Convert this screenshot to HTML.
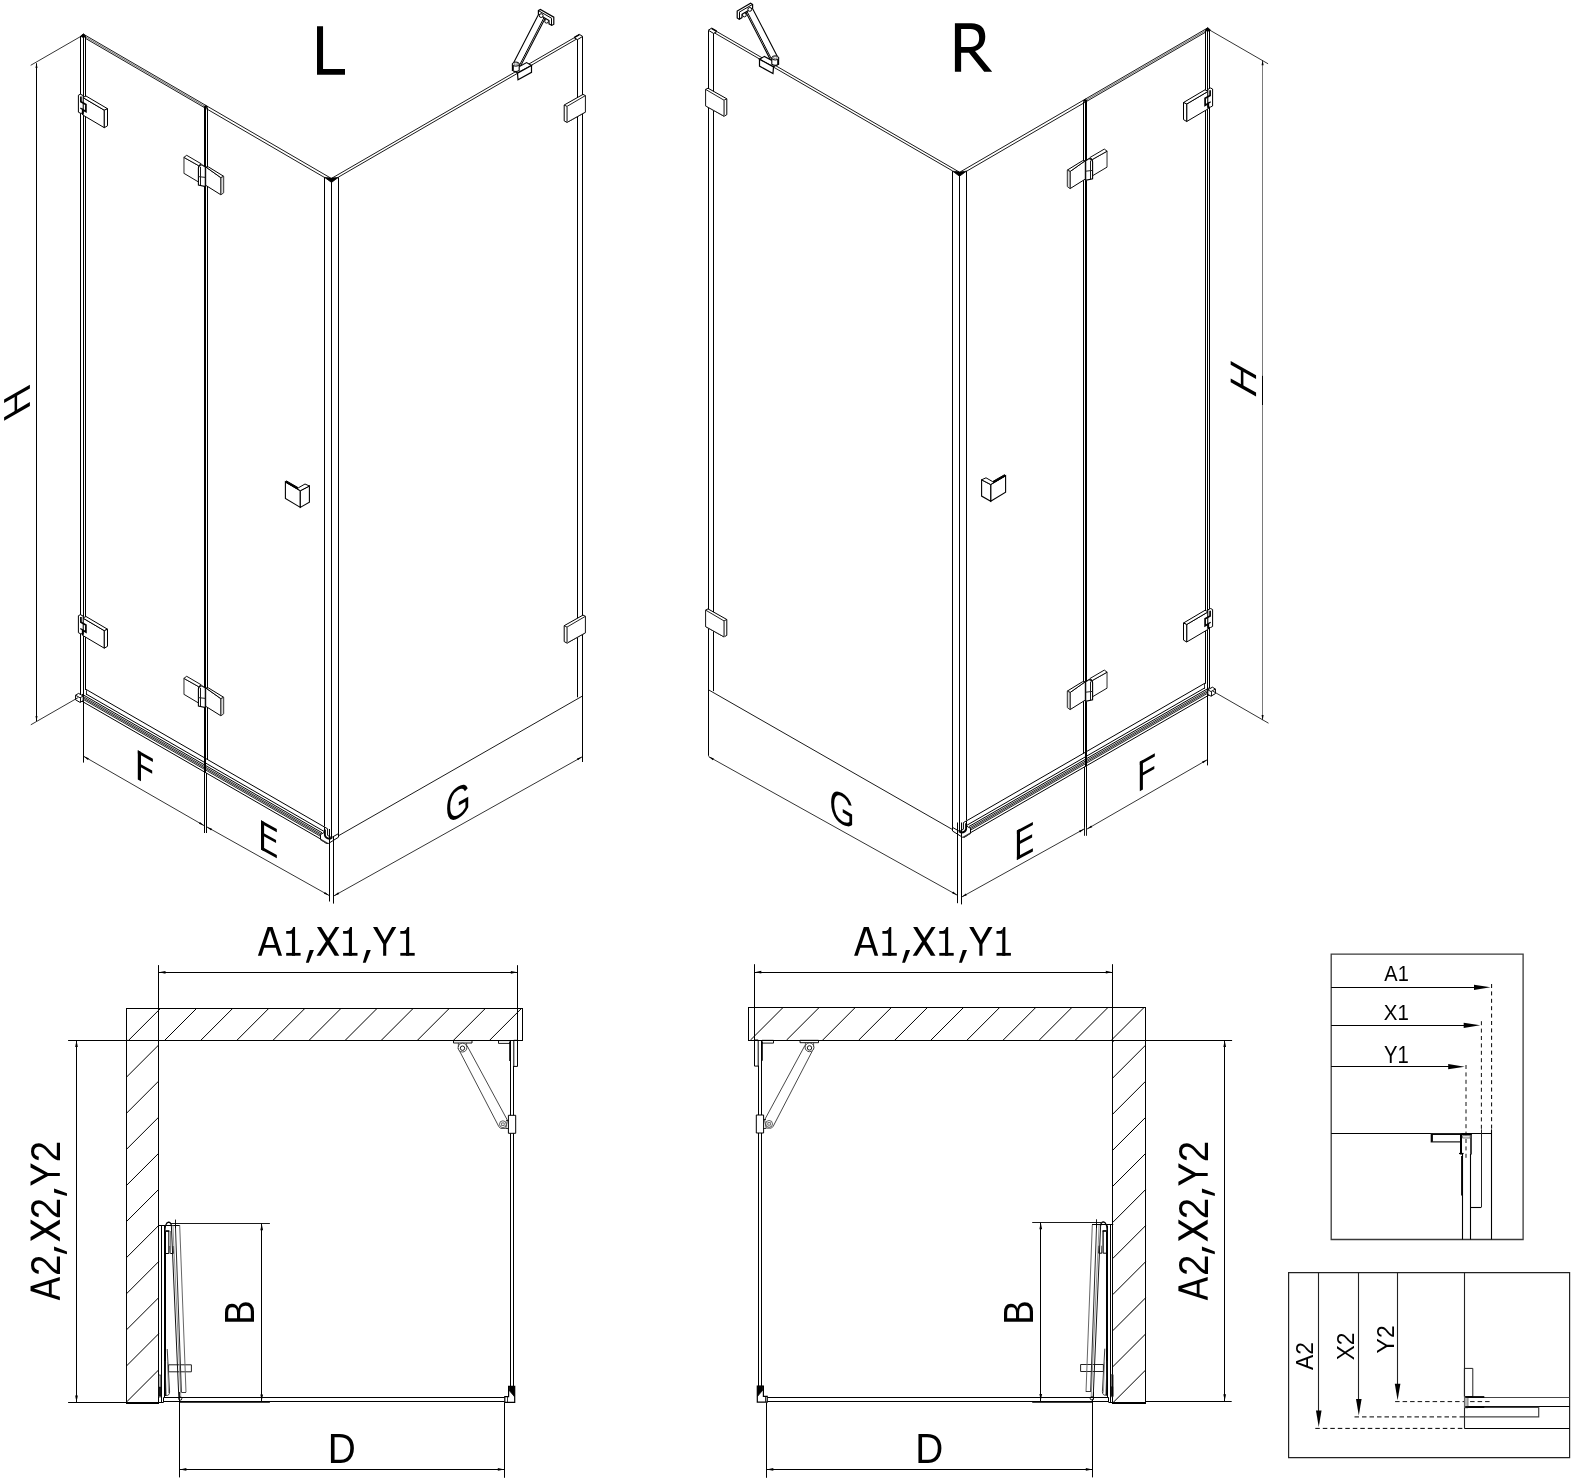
<!DOCTYPE html>
<html lang="en">
<head>
<meta charset="utf-8">
<title>Shower enclosure L/R technical drawing</title>
<style>
html,body{margin:0;padding:0;background:#fff;}
body{width:1582px;height:1484px;overflow:hidden;font-family:"Liberation Sans",sans-serif;}
svg{display:block;filter:grayscale(1);}
</style>
</head>
<body>
<svg width="1582" height="1484" viewBox="0 0 1582 1484" shape-rendering="geometricPrecision">
<rect x="0" y="0" width="1582" height="1484" fill="#fff"/>
<g id="isoL">
<line x1="80.5" y1="36" x2="80.5" y2="694.5" stroke="#000" stroke-width="1"/>
<line x1="83.5" y1="35" x2="83.5" y2="762.6" stroke="#000" stroke-width="1"/>
<line x1="85.5" y1="37" x2="85.5" y2="690" stroke="#000" stroke-width="1"/>
<path d="M80.6 36.2 L83.3 33.8 L86 36.4 L83.3 37.6 Z" stroke="#000" stroke-width="0.8" fill="#000" stroke-linejoin="miter"/>
<line x1="83.5" y1="34.22" x2="330.5" y2="177.95" stroke="#000" stroke-width="0.9"/>
<line x1="86" y1="38.68" x2="325" y2="177.75" stroke="#000" stroke-width="0.9"/>
<line x1="86" y1="37.18" x2="204" y2="105.84" stroke="#333" stroke-width="0.7"/>
<line x1="205" y1="107" x2="205" y2="773" stroke="#000" stroke-width="2"/>
<line x1="207.5" y1="107.5" x2="207.5" y2="760" stroke="#000" stroke-width="1"/>
<line x1="204.5" y1="773" x2="204.5" y2="833" stroke="#000" stroke-width="1"/>
<line x1="206.5" y1="773" x2="206.5" y2="833" stroke="#000" stroke-width="1"/>
<path d="M203.8 106.6 L205.6 105.4 L207.6 106.8 L205.8 108 Z" stroke="#000" stroke-width="0.8" fill="#000" stroke-linejoin="miter"/>
<line x1="324.5" y1="177.3" x2="324.5" y2="826.5" stroke="#000" stroke-width="1"/>
<line x1="331.5" y1="181" x2="331.5" y2="838" stroke="#000" stroke-width="1"/>
<line x1="338.5" y1="177.3" x2="338.5" y2="835" stroke="#000" stroke-width="1"/>
<path d="M324.6 177.4 L331.3 178.1 L338.3 177.4 L331.5 182.4 Z" stroke="#000" stroke-width="0.8" fill="#000" stroke-linejoin="miter"/>
<line x1="332" y1="178.12" x2="574.1" y2="37.8" stroke="#000" stroke-width="0.9"/>
<line x1="338.4" y1="177.11" x2="577.5" y2="38.53" stroke="#000" stroke-width="0.9"/>
<line x1="577.5" y1="39.3" x2="577.5" y2="697.3" stroke="#000" stroke-width="1"/>
<line x1="582.5" y1="36.7" x2="582.5" y2="762" stroke="#000" stroke-width="1"/>
<path d="M574.1 37.8 L579.4 34.4 L582.7 36.4 L577.5 39.6 Z" stroke="#000" stroke-width="1" fill="#fff" stroke-linejoin="miter"/>
<line x1="574.4" y1="37.4" x2="579.4" y2="34.6" stroke="#000" stroke-width="1.6"/>
<line x1="338.4" y1="835.8" x2="582.5" y2="696" stroke="#000" stroke-width="0.9"/>
<line x1="85.9" y1="689.3" x2="324.5" y2="827.07" stroke="#000" stroke-width="1"/>
<line x1="85.9" y1="693.9" x2="324.5" y2="831.67" stroke="#000" stroke-width="1"/>
<line x1="82" y1="694.15" x2="322" y2="832.72" stroke="#000" stroke-width="1"/>
<line x1="82" y1="695.85" x2="322" y2="834.42" stroke="#000" stroke-width="0.85"/>
<line x1="82" y1="697.25" x2="322" y2="835.82" stroke="#000" stroke-width="0.85"/>
<line x1="82" y1="698.65" x2="322" y2="837.22" stroke="#000" stroke-width="0.85"/>
<line x1="82" y1="701.25" x2="322" y2="839.82" stroke="#000" stroke-width="1"/>
<path d="M75.6 695.2 L78.6 693.4 L83.2 696 L83.2 700.6 L80 702.4 L75.6 699.8 Z" stroke="#000" stroke-width="1" fill="#fff" stroke-linejoin="miter"/>
<line x1="75.6" y1="695.2" x2="80" y2="697.8" stroke="#000" stroke-width="0.9"/>
<line x1="80" y1="697.8" x2="83.2" y2="696" stroke="#000" stroke-width="0.9"/>
<line x1="80.5" y1="697.8" x2="80.5" y2="702.4" stroke="#000" stroke-width="0.9"/>
<line x1="86.5" y1="690.2" x2="86.5" y2="695" stroke="#000" stroke-width="0.8"/>
<path d="M320.5 834.6 L324.5 832.2 L324.5 827 L327.6 828.8 L327.6 835.4 L331.5 837.6 L338.5 833.6 L338.5 837.2 L328.6 843.4 L326.4 843.4 L320.5 839.4 Z" stroke="#000" stroke-width="1" fill="#fff" stroke-linejoin="miter"/>
<line x1="320.5" y1="839.4" x2="327.4" y2="843.4" stroke="#333" stroke-width="1.5"/>
<path d="M324.9 829.4 L324.9 835.2 Q325.4 838.4 329.8 838.8 L332 837.6" stroke="#000" stroke-width="1.9" fill="none"/>
<path d="M82.8 97.5 L104.3 110.2 L104.3 127.7 L82.8 115 Z" stroke="#000" stroke-width="1" fill="#fff" stroke-linejoin="miter"/>
<path d="M82.8 97.5 L86 96 L107.5 108.7 L104.3 110.2 Z" stroke="#000" stroke-width="1" fill="#fff" stroke-linejoin="miter"/>
<path d="M104.3 110.2 L107.5 108.7 L107.5 125.8 L104.3 127.7 Z" stroke="#000" stroke-width="1" fill="#fff" stroke-linejoin="miter"/>
<path d="M78.4 95.2 L80.4 94.2 L83.2 95.6 L83.2 113.4 L80.4 113.2 L78.4 112.2 Z" stroke="#000" stroke-width="1" fill="#fff" stroke-linejoin="miter"/>
<path d="M80.9 96.4 L80.9 101.7 L85.9 104.5 L85.9 111.5 L82.7 109.7 L82.7 114.8" stroke="#000" stroke-width="1.7" fill="none" stroke-linejoin="miter"/>
<line x1="80.3" y1="107.9" x2="82.7" y2="109.5" stroke="#000" stroke-width="1.2"/>
<path d="M82.8 618 L104.3 630.7 L104.3 648.2 L82.8 635.5 Z" stroke="#000" stroke-width="1" fill="#fff" stroke-linejoin="miter"/>
<path d="M82.8 618 L86 616.5 L107.5 629.2 L104.3 630.7 Z" stroke="#000" stroke-width="1" fill="#fff" stroke-linejoin="miter"/>
<path d="M104.3 630.7 L107.5 629.2 L107.5 646.3 L104.3 648.2 Z" stroke="#000" stroke-width="1" fill="#fff" stroke-linejoin="miter"/>
<path d="M78.4 615.7 L80.4 614.7 L83.2 616.1 L83.2 633.9 L80.4 633.7 L78.4 632.7 Z" stroke="#000" stroke-width="1" fill="#fff" stroke-linejoin="miter"/>
<path d="M80.9 616.9 L80.9 622.2 L85.9 625 L85.9 632 L82.7 630.2 L82.7 635.3" stroke="#000" stroke-width="1.7" fill="none" stroke-linejoin="miter"/>
<line x1="80.3" y1="628.4" x2="82.7" y2="630" stroke="#000" stroke-width="1.2"/>
<path d="M183.9 157.4 L198.7 165.7 L198.7 182.1 L183.9 173.3 Z" stroke="#111" stroke-width="1" fill="#fff" stroke-linejoin="miter"/>
<line x1="183.9" y1="157.4" x2="183.9" y2="173.3" stroke="#999" stroke-width="1.4"/>
<path d="M183.9 157.4 L186.7 155.3 L201.2 163.8 L198.7 165.7 Z" stroke="#111" stroke-width="1" fill="#fff" stroke-linejoin="miter"/>
<path d="M205.7 166.9 L220.9 177.7 L220.9 194.8 L205.7 185.3 Z" stroke="#000" stroke-width="1" fill="#fff" stroke-linejoin="miter"/>
<path d="M205.7 166.9 L208.6 167 L223.7 176.3 L220.9 177.7 Z" stroke="#000" stroke-width="1" fill="#fff" stroke-linejoin="miter"/>
<path d="M220.9 177.7 L223.7 176.3 L223.7 192.8 L220.9 194.8 Z" stroke="#333" stroke-width="1" fill="#ddd" stroke-linejoin="miter"/>
<path d="M198.4 167.8 Q198.9 164.8 201.9 164.8 L205.3 167 L205.3 186.6 L198.4 185.1 Z" stroke="#000" stroke-width="1.1" fill="#fff"/>
<line x1="200.5" y1="166.8" x2="200.5" y2="185.6" stroke="#000" stroke-width="0.9"/>
<line x1="198.4" y1="176.6" x2="205.3" y2="177.4" stroke="#222" stroke-width="1"/>
<path d="M183.9 678.4 L198.7 686.7 L198.7 703.1 L183.9 694.3 Z" stroke="#111" stroke-width="1" fill="#fff" stroke-linejoin="miter"/>
<line x1="183.9" y1="678.4" x2="183.9" y2="694.3" stroke="#999" stroke-width="1.4"/>
<path d="M183.9 678.4 L186.7 676.3 L201.2 684.8 L198.7 686.7 Z" stroke="#111" stroke-width="1" fill="#fff" stroke-linejoin="miter"/>
<path d="M205.7 687.9 L220.9 698.7 L220.9 715.8 L205.7 706.3 Z" stroke="#000" stroke-width="1" fill="#fff" stroke-linejoin="miter"/>
<path d="M205.7 687.9 L208.6 688 L223.7 697.3 L220.9 698.7 Z" stroke="#000" stroke-width="1" fill="#fff" stroke-linejoin="miter"/>
<path d="M220.9 698.7 L223.7 697.3 L223.7 713.8 L220.9 715.8 Z" stroke="#333" stroke-width="1" fill="#ddd" stroke-linejoin="miter"/>
<path d="M198.4 688.8 Q198.9 685.8 201.9 685.8 L205.3 688 L205.3 707.6 L198.4 706.1 Z" stroke="#000" stroke-width="1.1" fill="#fff"/>
<line x1="200.5" y1="687.8" x2="200.5" y2="706.6" stroke="#000" stroke-width="0.9"/>
<line x1="198.4" y1="697.6" x2="205.3" y2="698.4" stroke="#222" stroke-width="1"/>
<path d="M564.2 105 L583 94.4 L585.4 95.6 L585.4 112.1 L567 122.4 L564.2 120.9 Z" stroke="#000" stroke-width="1" fill="#fff" stroke-linejoin="miter"/>
<path d="M567 106.4 L585.4 95.6 L585.4 112.1 L567 122.4 Z" stroke="#222" stroke-width="1" fill="#fff" stroke-linejoin="miter"/>
<line x1="564.2" y1="105" x2="567" y2="106.4" stroke="#000" stroke-width="0.9"/>
<line x1="567.5" y1="106.4" x2="567.5" y2="122.4" stroke="#777" stroke-width="1"/>
<path d="M564.2 625.7 L583 615.1 L585.4 616.3 L585.4 632.8 L567 643.1 L564.2 641.6 Z" stroke="#000" stroke-width="1" fill="#fff" stroke-linejoin="miter"/>
<path d="M567 627.1 L585.4 616.3 L585.4 632.8 L567 643.1 Z" stroke="#222" stroke-width="1" fill="#fff" stroke-linejoin="miter"/>
<line x1="564.2" y1="625.7" x2="567" y2="627.1" stroke="#000" stroke-width="0.9"/>
<line x1="567.5" y1="627.1" x2="567.5" y2="643.1" stroke="#777" stroke-width="1"/>
<path d="M285.4 481.8 L300.3 490.7 L300.3 507.4 L285.4 498.5 Z" stroke="#000" stroke-width="1.1" fill="#fff" stroke-linejoin="miter"/>
<path d="M300.3 490.7 L309.4 486 L309.4 502.3 L300.3 507.4 Z" stroke="#000" stroke-width="1.1" fill="#fff" stroke-linejoin="miter"/>
<path d="M285.4 481.8 L286.6 481 L298.4 487.8 L305 484 L309.4 486 L300.3 490.7 Z" stroke="#000" stroke-width="1" fill="#fff" stroke-linejoin="miter"/>
<line x1="285.6" y1="481.6" x2="298" y2="488.6" stroke="#000" stroke-width="1.8"/>
<path d="M512.6 64.8 L539 13.6 L545.6 17.5 L520.6 66 Z" stroke="#000" stroke-width="1.1" fill="#fff" stroke-linejoin="miter"/>
<line x1="519.2" y1="65.8" x2="544.2" y2="17.2" stroke="#000" stroke-width="1"/>
<path d="M538.4 10.6 L540.4 9.4 L553.8 17.2 L553.8 24.2 L551.8 25.4 L549 23.8 L549 20.6 L538.4 14.2 Z" stroke="#000" stroke-width="1.2" fill="#fff" stroke-linejoin="miter"/>
<line x1="551.5" y1="18.4" x2="551.5" y2="25.4" stroke="#000" stroke-width="1"/>
<line x1="538.4" y1="10.6" x2="551.8" y2="18.4" stroke="#000" stroke-width="1"/>
<circle cx="541.2" cy="15.6" r="1.9" stroke="#000" stroke-width="1" fill="#fff"/>
<circle cx="546.6" cy="21.2" r="1.9" stroke="#000" stroke-width="1" fill="#fff"/>
<path d="M517.5 73.1 L512.7 70.2 L526.6 62.6 L531.5 65.5 Z" stroke="#000" stroke-width="1.1" fill="#fff" stroke-linejoin="miter"/>
<path d="M517.5 73.1 L531.5 65.5 L531.5 72.3 L518 79.8 Z" stroke="#000" stroke-width="1.2" fill="#fff" stroke-linejoin="miter"/>
<path d="M512.4 64.1 L512.4 70.4 Q515.8 72.6 519.2 70.4 L519.2 64.1 Z" stroke="#000" stroke-width="1.1" fill="#fff"/>
<line x1="512.9" y1="64.5" x2="512.9" y2="70.4" stroke="#000" stroke-width="1.8"/>
<ellipse cx="515.8" cy="64.1" rx="3.4" ry="2.1" stroke="#000" stroke-width="1" fill="#fff"/>
<ellipse cx="515.8" cy="63.9" rx="1.9" ry="1.1" stroke="#555" stroke-width="0.7" fill="none"/>
<line x1="36.5" y1="63.3" x2="36.5" y2="721" stroke="#000" stroke-width="1"/>
<path d="M36.5 62.6 L37.5 68.1 L35.5 68.1 Z" fill="#000" stroke="none"/>
<path d="M36.5 721.6 L35.5 716.1 L37.5 716.1 Z" fill="#000" stroke="none"/>
<line x1="83.4" y1="34.9" x2="30.7" y2="65.3" stroke="#000" stroke-width="0.8"/>
<line x1="78.3" y1="697.5" x2="30.8" y2="724.8" stroke="#000" stroke-width="0.8"/>
<line x1="83.5" y1="756.2" x2="204.4" y2="825.8" stroke="#000" stroke-width="0.8"/>
<path d="M83.6 756.3 L88.86 758.18 L87.86 759.92 Z" fill="#000" stroke="none"/>
<path d="M204.2 825.7 L198.94 823.82 L199.94 822.08 Z" fill="#000" stroke="none"/>
<line x1="206.5" y1="826.7" x2="329.4" y2="895.65" stroke="#000" stroke-width="0.8"/>
<path d="M206.8 826.9 L212.09 828.72 L211.11 830.46 Z" fill="#000" stroke="none"/>
<path d="M329.2 895.55 L323.91 893.73 L324.89 891.99 Z" fill="#000" stroke="none"/>
<line x1="333.7" y1="896" x2="582.4" y2="756.7" stroke="#000" stroke-width="0.8"/>
<path d="M333.9 895.9 L338.21 892.34 L339.19 894.09 Z" fill="#000" stroke="none"/>
<path d="M582.2 756.8 L577.89 760.36 L576.91 758.61 Z" fill="#000" stroke="none"/>
<line x1="329.5" y1="829" x2="329.5" y2="901.5" stroke="#000" stroke-width="1"/>
<line x1="333.5" y1="836.5" x2="333.5" y2="903.6" stroke="#000" stroke-width="1"/>
</g>
<g id="isoR">
<line x1="1209.5" y1="29.8" x2="1209.5" y2="688.3" stroke="#000" stroke-width="1"/>
<line x1="1207.5" y1="28.8" x2="1207.5" y2="756.4" stroke="#000" stroke-width="1"/>
<line x1="1205.5" y1="30.8" x2="1205.5" y2="683.8" stroke="#000" stroke-width="1"/>
<path d="M1210.4 30 L1207.7 27.6 L1205 30.2 L1207.7 31.4 Z" stroke="#000" stroke-width="0.8" fill="#000" stroke-linejoin="miter"/>
<line x1="1207.5" y1="28.02" x2="960.5" y2="171.75" stroke="#000" stroke-width="0.9"/>
<line x1="1205" y1="32.48" x2="966" y2="171.55" stroke="#000" stroke-width="0.9"/>
<line x1="1205" y1="30.98" x2="1087" y2="99.64" stroke="#333" stroke-width="0.7"/>
<line x1="1086" y1="100.8" x2="1086" y2="766.8" stroke="#000" stroke-width="2"/>
<line x1="1083.5" y1="101.3" x2="1083.5" y2="753.8" stroke="#000" stroke-width="1"/>
<line x1="1086.5" y1="766.8" x2="1086.5" y2="826.8" stroke="#000" stroke-width="1"/>
<line x1="1084.5" y1="766.8" x2="1084.5" y2="826.8" stroke="#000" stroke-width="1"/>
<path d="M1087.2 100.4 L1085.4 99.2 L1083.4 100.6 L1085.2 101.8 Z" stroke="#000" stroke-width="0.8" fill="#000" stroke-linejoin="miter"/>
<line x1="966.5" y1="171.1" x2="966.5" y2="820.3" stroke="#000" stroke-width="1"/>
<line x1="959.5" y1="174.8" x2="959.5" y2="831.8" stroke="#000" stroke-width="1"/>
<line x1="952.5" y1="171.1" x2="952.5" y2="828.8" stroke="#000" stroke-width="1"/>
<path d="M966.4 171.2 L959.7 171.9 L952.7 171.2 L959.5 176.2 Z" stroke="#000" stroke-width="0.8" fill="#000" stroke-linejoin="miter"/>
<line x1="959" y1="171.92" x2="716.9" y2="31.6" stroke="#000" stroke-width="0.9"/>
<line x1="952.6" y1="170.91" x2="713.5" y2="32.33" stroke="#000" stroke-width="0.9"/>
<line x1="713.5" y1="33.1" x2="713.5" y2="691.1" stroke="#000" stroke-width="1"/>
<line x1="708.5" y1="30.5" x2="708.5" y2="755.8" stroke="#000" stroke-width="1"/>
<path d="M716.9 31.6 L711.6 28.2 L708.3 30.2 L713.5 33.4 Z" stroke="#000" stroke-width="1" fill="#fff" stroke-linejoin="miter"/>
<line x1="716.6" y1="31.2" x2="711.6" y2="28.4" stroke="#000" stroke-width="1.6"/>
<line x1="952.6" y1="829.6" x2="708.5" y2="689.8" stroke="#000" stroke-width="0.9"/>
<line x1="1205.1" y1="683.1" x2="966.5" y2="820.87" stroke="#000" stroke-width="1"/>
<line x1="1205.1" y1="687.7" x2="966.5" y2="825.47" stroke="#000" stroke-width="1"/>
<line x1="1209" y1="687.95" x2="969" y2="826.52" stroke="#000" stroke-width="1"/>
<line x1="1209" y1="689.65" x2="969" y2="828.22" stroke="#000" stroke-width="0.85"/>
<line x1="1209" y1="691.05" x2="969" y2="829.62" stroke="#000" stroke-width="0.85"/>
<line x1="1209" y1="692.45" x2="969" y2="831.02" stroke="#000" stroke-width="0.85"/>
<line x1="1209" y1="695.05" x2="969" y2="833.62" stroke="#000" stroke-width="1"/>
<path d="M1215.4 689 L1212.4 687.2 L1207.8 689.8 L1207.8 694.4 L1211 696.2 L1215.4 693.6 Z" stroke="#000" stroke-width="1" fill="#fff" stroke-linejoin="miter"/>
<line x1="1215.4" y1="689" x2="1211" y2="691.6" stroke="#000" stroke-width="0.9"/>
<line x1="1211" y1="691.6" x2="1207.8" y2="689.8" stroke="#000" stroke-width="0.9"/>
<line x1="1211.5" y1="691.6" x2="1211.5" y2="696.2" stroke="#000" stroke-width="0.9"/>
<line x1="1204.5" y1="684" x2="1204.5" y2="688.8" stroke="#000" stroke-width="0.8"/>
<path d="M970.5 828.4 L966.5 826 L966.5 820.8 L963.4 822.6 L963.4 829.2 L959.5 831.4 L952.5 827.4 L952.5 831 L962.4 837.2 L964.6 837.2 L970.5 833.2 Z" stroke="#000" stroke-width="1" fill="#fff" stroke-linejoin="miter"/>
<line x1="970.5" y1="833.2" x2="963.6" y2="837.2" stroke="#333" stroke-width="1.5"/>
<path d="M966.1 823.2 L966.1 829 Q965.6 832.2 961.2 832.6 L959 831.4" stroke="#000" stroke-width="1.9" fill="none"/>
<path d="M1208.2 91.3 L1186.7 104 L1186.7 121.5 L1208.2 108.8 Z" stroke="#000" stroke-width="1" fill="#fff" stroke-linejoin="miter"/>
<path d="M1208.2 91.3 L1205 89.8 L1183.5 102.5 L1186.7 104 Z" stroke="#000" stroke-width="1" fill="#fff" stroke-linejoin="miter"/>
<path d="M1186.7 104 L1183.5 102.5 L1183.5 119.6 L1186.7 121.5 Z" stroke="#000" stroke-width="1" fill="#fff" stroke-linejoin="miter"/>
<path d="M1212.6 89 L1210.6 88 L1207.8 89.4 L1207.8 107.2 L1210.6 107 L1212.6 106 Z" stroke="#000" stroke-width="1" fill="#fff" stroke-linejoin="miter"/>
<path d="M1210.1 90.2 L1210.1 95.5 L1205.1 98.3 L1205.1 105.3 L1208.3 103.5 L1208.3 108.6" stroke="#000" stroke-width="1.7" fill="none" stroke-linejoin="miter"/>
<line x1="1210.7" y1="101.7" x2="1208.3" y2="103.3" stroke="#000" stroke-width="1.2"/>
<path d="M1208.2 611.8 L1186.7 624.5 L1186.7 642 L1208.2 629.3 Z" stroke="#000" stroke-width="1" fill="#fff" stroke-linejoin="miter"/>
<path d="M1208.2 611.8 L1205 610.3 L1183.5 623 L1186.7 624.5 Z" stroke="#000" stroke-width="1" fill="#fff" stroke-linejoin="miter"/>
<path d="M1186.7 624.5 L1183.5 623 L1183.5 640.1 L1186.7 642 Z" stroke="#000" stroke-width="1" fill="#fff" stroke-linejoin="miter"/>
<path d="M1212.6 609.5 L1210.6 608.5 L1207.8 609.9 L1207.8 627.7 L1210.6 627.5 L1212.6 626.5 Z" stroke="#000" stroke-width="1" fill="#fff" stroke-linejoin="miter"/>
<path d="M1210.1 610.7 L1210.1 616 L1205.1 618.8 L1205.1 625.8 L1208.3 624 L1208.3 629.1" stroke="#000" stroke-width="1.7" fill="none" stroke-linejoin="miter"/>
<line x1="1210.7" y1="622.2" x2="1208.3" y2="623.8" stroke="#000" stroke-width="1.2"/>
<path d="M1107.1 151.2 L1092.3 159.5 L1092.3 175.9 L1107.1 167.1 Z" stroke="#111" stroke-width="1" fill="#fff" stroke-linejoin="miter"/>
<line x1="1107.1" y1="151.2" x2="1107.1" y2="167.1" stroke="#999" stroke-width="1.4"/>
<path d="M1107.1 151.2 L1104.3 149.1 L1089.8 157.6 L1092.3 159.5 Z" stroke="#111" stroke-width="1" fill="#fff" stroke-linejoin="miter"/>
<path d="M1085.3 160.7 L1070.1 171.5 L1070.1 188.6 L1085.3 179.1 Z" stroke="#000" stroke-width="1" fill="#fff" stroke-linejoin="miter"/>
<path d="M1085.3 160.7 L1082.4 160.8 L1067.3 170.1 L1070.1 171.5 Z" stroke="#000" stroke-width="1" fill="#fff" stroke-linejoin="miter"/>
<path d="M1070.1 171.5 L1067.3 170.1 L1067.3 186.6 L1070.1 188.6 Z" stroke="#333" stroke-width="1" fill="#ddd" stroke-linejoin="miter"/>
<path d="M1092.6 161.6 Q1092.1 158.6 1089.1 158.6 L1085.7 160.8 L1085.7 180.4 L1092.6 178.9 Z" stroke="#000" stroke-width="1.1" fill="#fff"/>
<line x1="1090.5" y1="160.6" x2="1090.5" y2="179.4" stroke="#000" stroke-width="0.9"/>
<line x1="1092.6" y1="170.4" x2="1085.7" y2="171.2" stroke="#222" stroke-width="1"/>
<path d="M1107.1 672.2 L1092.3 680.5 L1092.3 696.9 L1107.1 688.1 Z" stroke="#111" stroke-width="1" fill="#fff" stroke-linejoin="miter"/>
<line x1="1107.1" y1="672.2" x2="1107.1" y2="688.1" stroke="#999" stroke-width="1.4"/>
<path d="M1107.1 672.2 L1104.3 670.1 L1089.8 678.6 L1092.3 680.5 Z" stroke="#111" stroke-width="1" fill="#fff" stroke-linejoin="miter"/>
<path d="M1085.3 681.7 L1070.1 692.5 L1070.1 709.6 L1085.3 700.1 Z" stroke="#000" stroke-width="1" fill="#fff" stroke-linejoin="miter"/>
<path d="M1085.3 681.7 L1082.4 681.8 L1067.3 691.1 L1070.1 692.5 Z" stroke="#000" stroke-width="1" fill="#fff" stroke-linejoin="miter"/>
<path d="M1070.1 692.5 L1067.3 691.1 L1067.3 707.6 L1070.1 709.6 Z" stroke="#333" stroke-width="1" fill="#ddd" stroke-linejoin="miter"/>
<path d="M1092.6 682.6 Q1092.1 679.6 1089.1 679.6 L1085.7 681.8 L1085.7 701.4 L1092.6 699.9 Z" stroke="#000" stroke-width="1.1" fill="#fff"/>
<line x1="1090.5" y1="681.6" x2="1090.5" y2="700.4" stroke="#000" stroke-width="0.9"/>
<line x1="1092.6" y1="691.4" x2="1085.7" y2="692.2" stroke="#222" stroke-width="1"/>
<path d="M726.8 98.8 L708 88.2 L705.6 89.4 L705.6 105.9 L724 116.2 L726.8 114.7 Z" stroke="#000" stroke-width="1" fill="#fff" stroke-linejoin="miter"/>
<path d="M724 100.2 L705.6 89.4 L705.6 105.9 L724 116.2 Z" stroke="#222" stroke-width="1" fill="#fff" stroke-linejoin="miter"/>
<line x1="726.8" y1="98.8" x2="724" y2="100.2" stroke="#000" stroke-width="0.9"/>
<line x1="724.5" y1="100.2" x2="724.5" y2="116.2" stroke="#777" stroke-width="1"/>
<path d="M726.8 619.5 L708 608.9 L705.6 610.1 L705.6 626.6 L724 636.9 L726.8 635.4 Z" stroke="#000" stroke-width="1" fill="#fff" stroke-linejoin="miter"/>
<path d="M724 620.9 L705.6 610.1 L705.6 626.6 L724 636.9 Z" stroke="#222" stroke-width="1" fill="#fff" stroke-linejoin="miter"/>
<line x1="726.8" y1="619.5" x2="724" y2="620.9" stroke="#000" stroke-width="0.9"/>
<line x1="724.5" y1="620.9" x2="724.5" y2="636.9" stroke="#777" stroke-width="1"/>
<path d="M1005.6 475.6 L990.7 484.5 L990.7 501.2 L1005.6 492.3 Z" stroke="#000" stroke-width="1.1" fill="#fff" stroke-linejoin="miter"/>
<path d="M990.7 484.5 L981.6 479.8 L981.6 496.1 L990.7 501.2 Z" stroke="#000" stroke-width="1.1" fill="#fff" stroke-linejoin="miter"/>
<path d="M1005.6 475.6 L1004.4 474.8 L992.6 481.6 L986 477.8 L981.6 479.8 L990.7 484.5 Z" stroke="#000" stroke-width="1" fill="#fff" stroke-linejoin="miter"/>
<line x1="1005.4" y1="475.4" x2="993" y2="482.4" stroke="#000" stroke-width="1.8"/>
<path d="M778.4 58.6 L752 7.4 L745.4 11.3 L770.4 59.8 Z" stroke="#000" stroke-width="1.1" fill="#fff" stroke-linejoin="miter"/>
<line x1="771.8" y1="59.6" x2="746.8" y2="11" stroke="#000" stroke-width="1"/>
<path d="M752.6 4.4 L750.6 3.2 L737.2 11 L737.2 18 L739.2 19.2 L742 17.6 L742 14.4 L752.6 8 Z" stroke="#000" stroke-width="1.2" fill="#fff" stroke-linejoin="miter"/>
<line x1="739.5" y1="12.2" x2="739.5" y2="19.2" stroke="#000" stroke-width="1"/>
<line x1="752.6" y1="4.4" x2="739.2" y2="12.2" stroke="#000" stroke-width="1"/>
<circle cx="749.8" cy="9.4" r="1.9" stroke="#000" stroke-width="1" fill="#fff"/>
<circle cx="744.4" cy="15" r="1.9" stroke="#000" stroke-width="1" fill="#fff"/>
<path d="M773.5 66.9 L778.3 64 L764.4 56.4 L759.5 59.3 Z" stroke="#000" stroke-width="1.1" fill="#fff" stroke-linejoin="miter"/>
<path d="M773.5 66.9 L759.5 59.3 L759.5 66.1 L773 73.6 Z" stroke="#000" stroke-width="1.2" fill="#fff" stroke-linejoin="miter"/>
<path d="M778.6 57.9 L778.6 64.2 Q775.2 66.4 771.8 64.2 L771.8 57.9 Z" stroke="#000" stroke-width="1.1" fill="#fff"/>
<line x1="778.1" y1="58.3" x2="778.1" y2="64.2" stroke="#000" stroke-width="1.8"/>
<ellipse cx="775.2" cy="57.9" rx="3.4" ry="2.1" stroke="#000" stroke-width="1" fill="#fff"/>
<ellipse cx="775.2" cy="57.7" rx="1.9" ry="1.1" stroke="#555" stroke-width="0.7" fill="none"/>
<line x1="1262.5" y1="60.4" x2="1262.5" y2="719.8" stroke="#7a7a7a" stroke-width="1"/>
<line x1="1262.5" y1="375.85" x2="1262.5" y2="405" stroke="#000" stroke-width="1"/>
<path d="M1262.6 59.8 L1263.6 65.3 L1261.6 65.3 Z" fill="#000" stroke="none"/>
<path d="M1262.6 720.4 L1261.6 714.9 L1263.6 714.9 Z" fill="#000" stroke="none"/>
<line x1="1207.3" y1="28.7" x2="1268.1" y2="63.8" stroke="#000" stroke-width="0.8"/>
<line x1="1212.6" y1="691" x2="1268.5" y2="723.2" stroke="#000" stroke-width="0.8"/>
<line x1="1207.3" y1="759.7" x2="1086.8" y2="829.2" stroke="#000" stroke-width="0.8"/>
<path d="M1207.3 759.7 L1203.04 763.32 L1202.04 761.58 Z" fill="#000" stroke="none"/>
<path d="M1087 829.1 L1091.26 825.48 L1092.26 827.22 Z" fill="#000" stroke="none"/>
<line x1="1084.4" y1="828.8" x2="961.4" y2="897.2" stroke="#000" stroke-width="0.8"/>
<path d="M1084.2 828.9 L1079.94 832.52 L1078.94 830.78 Z" fill="#000" stroke="none"/>
<path d="M961.6 897.1 L965.86 893.48 L966.86 895.22 Z" fill="#000" stroke="none"/>
<line x1="957.3" y1="895.2" x2="708.6" y2="756.6" stroke="#000" stroke-width="0.8"/>
<path d="M957.3 895.2 L952.04 893.32 L953.04 891.58 Z" fill="#000" stroke="none"/>
<path d="M708.6 756.6 L713.86 758.48 L712.86 760.22 Z" fill="#000" stroke="none"/>
<line x1="1207.5" y1="694" x2="1207.5" y2="765.4" stroke="#000" stroke-width="1"/>
<line x1="957.5" y1="822.5" x2="957.5" y2="903.2" stroke="#000" stroke-width="1"/>
<line x1="961.5" y1="822.5" x2="961.5" y2="904.4" stroke="#000" stroke-width="1"/>
<line x1="1084.5" y1="826" x2="1084.5" y2="835.8" stroke="#000" stroke-width="0.9"/>
<line x1="1086.5" y1="826" x2="1086.5" y2="835.8" stroke="#000" stroke-width="0.9"/>
</g>
<g id="planL">
<rect x="126.5" y="1008.5" width="396" height="32" stroke="#000" stroke-width="1" fill="none"/>
<rect x="126.5" y="1040.5" width="32" height="362" stroke="#000" stroke-width="1" fill="none"/>
<line x1="126" y1="1403" x2="159" y2="1403" stroke="#000" stroke-width="2"/>
<line x1="128.65" y1="1040.25" x2="160.6" y2="1008.3" stroke="#000" stroke-width="1"/>
<line x1="164.75" y1="1040.25" x2="196.7" y2="1008.3" stroke="#000" stroke-width="1"/>
<line x1="200.85" y1="1040.25" x2="232.8" y2="1008.3" stroke="#000" stroke-width="1"/>
<line x1="236.95" y1="1040.25" x2="268.9" y2="1008.3" stroke="#000" stroke-width="1"/>
<line x1="273.05" y1="1040.25" x2="305" y2="1008.3" stroke="#000" stroke-width="1"/>
<line x1="309.15" y1="1040.25" x2="341.1" y2="1008.3" stroke="#000" stroke-width="1"/>
<line x1="345.25" y1="1040.25" x2="377.2" y2="1008.3" stroke="#000" stroke-width="1"/>
<line x1="381.35" y1="1040.25" x2="413.3" y2="1008.3" stroke="#000" stroke-width="1"/>
<line x1="417.45" y1="1040.25" x2="449.4" y2="1008.3" stroke="#000" stroke-width="1"/>
<line x1="453.55" y1="1040.25" x2="485.5" y2="1008.3" stroke="#000" stroke-width="1"/>
<line x1="489.65" y1="1040.25" x2="521.6" y2="1008.3" stroke="#000" stroke-width="1"/>
<line x1="126.45" y1="1041.1" x2="127.3" y2="1040.25" stroke="#000" stroke-width="1"/>
<line x1="126.45" y1="1077.2" x2="158.75" y2="1044.9" stroke="#000" stroke-width="1"/>
<line x1="126.45" y1="1113.3" x2="158.75" y2="1081" stroke="#000" stroke-width="1"/>
<line x1="126.45" y1="1149.4" x2="158.75" y2="1117.1" stroke="#000" stroke-width="1"/>
<line x1="126.45" y1="1185.5" x2="158.75" y2="1153.2" stroke="#000" stroke-width="1"/>
<line x1="126.45" y1="1221.6" x2="158.75" y2="1189.3" stroke="#000" stroke-width="1"/>
<line x1="126.45" y1="1257.7" x2="158.75" y2="1225.4" stroke="#000" stroke-width="1"/>
<line x1="126.45" y1="1293.8" x2="158.75" y2="1261.5" stroke="#000" stroke-width="1"/>
<line x1="126.45" y1="1329.9" x2="158.75" y2="1297.6" stroke="#000" stroke-width="1"/>
<line x1="126.45" y1="1366" x2="158.75" y2="1333.7" stroke="#000" stroke-width="1"/>
<line x1="126.45" y1="1402.1" x2="158.75" y2="1369.8" stroke="#000" stroke-width="1"/>
<line x1="510.5" y1="1040.3" x2="510.5" y2="1387" stroke="#000" stroke-width="1"/>
<line x1="513.5" y1="1066" x2="513.5" y2="1387" stroke="#000" stroke-width="1"/>
<path d="M513.8 1040.3 L517.5 1040.3 L517.5 1066.4 L513.8 1066.4 Z" stroke="#000" stroke-width="1" fill="none" stroke-linejoin="miter"/>
<line x1="510" y1="1042" x2="510" y2="1061" stroke="#000" stroke-width="1.6"/>
<path d="M498.5 1040.6 L510 1040.6 L510 1043.4 L498.5 1043.4 Z" stroke="#000" stroke-width="0.9" fill="none" stroke-linejoin="miter"/>
<path d="M453.5 1040.6 L472 1040.6 L472 1043 L453.5 1043 Z" stroke="#000" stroke-width="0.9" fill="none" stroke-linejoin="miter"/>
<path d="M458 1048 L498.8 1126.6 L500.6 1128.4 L505.8 1128.4 L507.4 1120.2 L467 1045.6" stroke="#333" stroke-width="0.9" fill="#fff" stroke-linejoin="miter"/>
<circle cx="462.5" cy="1047.6" r="4.4" stroke="#333" stroke-width="0.9" fill="#fff"/>
<circle cx="462.5" cy="1048.2" r="2.2" stroke="#000" stroke-width="0.9" fill="none"/>
<path d="M458.4 1043 L458.4 1047" stroke="#333" stroke-width="0.8" fill="none" stroke-linejoin="miter"/>
<path d="M466.6 1043 L466.6 1046" stroke="#333" stroke-width="0.8" fill="none" stroke-linejoin="miter"/>
<circle cx="502.9" cy="1124.2" r="3.4" stroke="#333" stroke-width="0.8" fill="#fff"/>
<path d="M501.6 1122.9 L504.2 1122.9 L504.2 1125.5 L501.6 1125.5 Z" stroke="#333" stroke-width="0.7" fill="none" stroke-linejoin="miter"/>
<path d="M508.4 1115.3 L515.7 1115.3 L515.7 1133.3 L508.4 1133.3 Z" stroke="#000" stroke-width="1" fill="#fff" stroke-linejoin="miter"/>
<line x1="506" y1="1120.5" x2="508.4" y2="1120.5" stroke="#000" stroke-width="0.8"/>
<line x1="506" y1="1128.5" x2="508.4" y2="1128.5" stroke="#000" stroke-width="0.8"/>
<line x1="163.5" y1="1397.5" x2="504.8" y2="1397.5" stroke="#000" stroke-width="1"/>
<line x1="163.5" y1="1401.5" x2="504.8" y2="1401.5" stroke="#000" stroke-width="1"/>
<path d="M504.8 1396.6 L508.6 1396.6 L508.6 1386.4 L514.7 1386.4 L514.7 1402.4 L504.8 1402.4 Z" stroke="#000" stroke-width="1.2" fill="#fff" stroke-linejoin="miter"/>
<path d="M509.2 1386.6 L514.4 1386.6 L514.4 1396.6 L509.2 1390.4 Z" stroke="#000" stroke-width="0.8" fill="#000" stroke-linejoin="miter"/>
<line x1="507.5" y1="1396.8" x2="507.5" y2="1402.2" stroke="#000" stroke-width="0.8"/>
<line x1="161.5" y1="1225.2" x2="161.5" y2="1402.4" stroke="#000" stroke-width="1"/>
<line x1="158.75" y1="1225.5" x2="180" y2="1225.5" stroke="#000" stroke-width="1"/>
<line x1="164.5" y1="1225.7" x2="164.5" y2="1398" stroke="#000" stroke-width="1"/>
<line x1="165.5" y1="1232" x2="165.5" y2="1396" stroke="#000" stroke-width="1"/>
<line x1="158.75" y1="1402.5" x2="163.5" y2="1402.5" stroke="#000" stroke-width="1"/>
<line x1="163.5" y1="1397.6" x2="163.5" y2="1402.4" stroke="#000" stroke-width="1"/>
<path d="M164.9 1231.2 L168.8 1231.2 L168.8 1253.5 L164.9 1253.5 Z" stroke="#000" stroke-width="1" fill="none" stroke-linejoin="miter"/>
<path d="M173.2 1246 L173.4 1253.5 L170.2 1253.5 L170 1246" stroke="#000" stroke-width="1" fill="none" stroke-linejoin="miter"/>
<line x1="170.5" y1="1231" x2="170.5" y2="1253.5" stroke="#777" stroke-width="0.9"/>
<path d="M164.9 1234 Q164.6 1223 168.4 1222.2 Q171.2 1222.4 171.4 1226" stroke="#000" stroke-width="1.2" fill="none"/>
<line x1="165.6" y1="1231" x2="169.4" y2="1231" stroke="#000" stroke-width="1.4"/>
<path d="M168.6 1364.8 L191.4 1364.8 L191.4 1371.8 L168.6 1371.8 Z" stroke="#222" stroke-width="1" fill="#fff" stroke-linejoin="miter"/>
<line x1="171.35" y1="1225.2" x2="178.8" y2="1397" stroke="#111" stroke-width="1"/>
<line x1="172.9" y1="1225.2" x2="180.8" y2="1397" stroke="#8a8a8a" stroke-width="0.9"/>
<line x1="175.4" y1="1225.2" x2="181.4" y2="1392.2" stroke="#2a2a2a" stroke-width="1"/>
<line x1="179.7" y1="1225.2" x2="186" y2="1392.2" stroke="#666" stroke-width="1"/>
<line x1="181.4" y1="1392.5" x2="186" y2="1392.5" stroke="#222" stroke-width="0.9"/>
<line x1="175.5" y1="1219.6" x2="175.5" y2="1228.2" stroke="#000" stroke-width="0.9"/>
<path d="M167.2 1349 L169.6 1392 Q169.4 1396 166 1395.4 L165 1361" stroke="#222" stroke-width="0.9" fill="none"/>
<line x1="167.4" y1="1362" x2="168.6" y2="1393" stroke="#777" stroke-width="0.7"/>
<path d="M158.9 1375 L160.7 1375 L160.7 1397 L158.9 1397 Z" stroke="#222" stroke-width="0.8" fill="none" stroke-linejoin="miter"/>
<path d="M159.2 1387 L160.5 1387 L160.5 1396 L159.2 1396 Z" stroke="#000" stroke-width="0.6" fill="#000" stroke-linejoin="miter"/>
<circle cx="180.2" cy="1398.6" r="1.6" stroke="#000" stroke-width="1" fill="none"/>
<line x1="179.5" y1="1392" x2="179.5" y2="1400" stroke="#000" stroke-width="0.9"/>
<line x1="158.75" y1="972.5" x2="517.55" y2="972.5" stroke="#000" stroke-width="1"/>
<path d="M158.9 972.3 L165.5 970.95 L165.5 973.65 Z" fill="#000" stroke="none"/>
<path d="M517.4 972.3 L510.8 973.65 L510.8 970.95 Z" fill="#000" stroke="none"/>
<line x1="158.5" y1="965.1" x2="158.5" y2="1040" stroke="#000" stroke-width="1"/>
<line x1="517.5" y1="965.2" x2="517.5" y2="1040" stroke="#000" stroke-width="1"/>
<line x1="76.5" y1="1040.3" x2="76.5" y2="1402.4" stroke="#000" stroke-width="1"/>
<path d="M76.5 1040.5 L77.85 1047.1 L75.15 1047.1 Z" fill="#000" stroke="none"/>
<path d="M76.5 1402.2 L75.15 1395.6 L77.85 1395.6 Z" fill="#000" stroke="none"/>
<line x1="68.1" y1="1040.5" x2="126.45" y2="1040.5" stroke="#000" stroke-width="1"/>
<line x1="68.1" y1="1402.5" x2="126.45" y2="1402.5" stroke="#000" stroke-width="1"/>
<line x1="261.5" y1="1223.4" x2="261.5" y2="1401.4" stroke="#000" stroke-width="1"/>
<path d="M261.7 1223.6 L263.05 1230.2 L260.35 1230.2 Z" fill="#000" stroke="none"/>
<path d="M261.7 1401 L260.35 1394.4 L263.05 1394.4 Z" fill="#000" stroke="none"/>
<line x1="171" y1="1223.5" x2="269.9" y2="1223.5" stroke="#000" stroke-width="0.9"/>
<line x1="179.7" y1="1402" x2="269.9" y2="1402" stroke="#000" stroke-width="1.7"/>
<line x1="179.65" y1="1469.5" x2="504.6" y2="1469.5" stroke="#000" stroke-width="1"/>
<path d="M179.8 1469.4 L186.4 1468.05 L186.4 1470.75 Z" fill="#000" stroke="none"/>
<path d="M504.4 1469.4 L497.8 1470.75 L497.8 1468.05 Z" fill="#000" stroke="none"/>
<line x1="179.5" y1="1400" x2="179.5" y2="1477.4" stroke="#000" stroke-width="1"/>
<line x1="504.5" y1="1402.4" x2="504.5" y2="1477.8" stroke="#000" stroke-width="1"/>
</g>
<g id="planR">
<rect x="748.5" y="1007.5" width="397" height="33" stroke="#000" stroke-width="1" fill="none"/>
<rect x="1112.5" y="1040.5" width="33" height="363" stroke="#000" stroke-width="1" fill="none"/>
<line x1="1112" y1="1403" x2="1146" y2="1403" stroke="#000" stroke-width="2"/>
<line x1="750.35" y1="1040.2" x2="782.95" y2="1007.6" stroke="#000" stroke-width="1"/>
<line x1="786.45" y1="1040.2" x2="819.05" y2="1007.6" stroke="#000" stroke-width="1"/>
<line x1="822.55" y1="1040.2" x2="855.15" y2="1007.6" stroke="#000" stroke-width="1"/>
<line x1="858.65" y1="1040.2" x2="891.25" y2="1007.6" stroke="#000" stroke-width="1"/>
<line x1="894.75" y1="1040.2" x2="927.35" y2="1007.6" stroke="#000" stroke-width="1"/>
<line x1="930.85" y1="1040.2" x2="963.45" y2="1007.6" stroke="#000" stroke-width="1"/>
<line x1="966.95" y1="1040.2" x2="999.55" y2="1007.6" stroke="#000" stroke-width="1"/>
<line x1="1003.05" y1="1040.2" x2="1035.65" y2="1007.6" stroke="#000" stroke-width="1"/>
<line x1="1039.15" y1="1040.2" x2="1071.75" y2="1007.6" stroke="#000" stroke-width="1"/>
<line x1="1075.25" y1="1040.2" x2="1107.85" y2="1007.6" stroke="#000" stroke-width="1"/>
<line x1="1111.35" y1="1040.2" x2="1143.95" y2="1007.6" stroke="#000" stroke-width="1"/>
<line x1="1112.6" y1="1042.05" x2="1114.45" y2="1040.2" stroke="#000" stroke-width="1"/>
<line x1="1112.6" y1="1078.15" x2="1145.6" y2="1045.15" stroke="#000" stroke-width="1"/>
<line x1="1112.6" y1="1114.25" x2="1145.6" y2="1081.25" stroke="#000" stroke-width="1"/>
<line x1="1112.6" y1="1150.35" x2="1145.6" y2="1117.35" stroke="#000" stroke-width="1"/>
<line x1="1112.6" y1="1186.45" x2="1145.6" y2="1153.45" stroke="#000" stroke-width="1"/>
<line x1="1112.6" y1="1222.55" x2="1145.6" y2="1189.55" stroke="#000" stroke-width="1"/>
<line x1="1112.6" y1="1258.65" x2="1145.6" y2="1225.65" stroke="#000" stroke-width="1"/>
<line x1="1112.6" y1="1294.75" x2="1145.6" y2="1261.75" stroke="#000" stroke-width="1"/>
<line x1="1112.6" y1="1330.85" x2="1145.6" y2="1297.85" stroke="#000" stroke-width="1"/>
<line x1="1112.6" y1="1366.95" x2="1145.6" y2="1333.95" stroke="#000" stroke-width="1"/>
<line x1="1112.6" y1="1403.05" x2="1145.6" y2="1370.05" stroke="#000" stroke-width="1"/>
<line x1="761.5" y1="1040" x2="761.5" y2="1386.7" stroke="#000" stroke-width="1"/>
<line x1="758.5" y1="1065.7" x2="758.5" y2="1386.7" stroke="#000" stroke-width="1"/>
<path d="M758.2 1040 L754.5 1040 L754.5 1066.1 L758.2 1066.1 Z" stroke="#000" stroke-width="1" fill="none" stroke-linejoin="miter"/>
<line x1="762" y1="1041.7" x2="762" y2="1060.7" stroke="#000" stroke-width="1.6"/>
<path d="M773.5 1040.3 L762 1040.3 L762 1043.1 L773.5 1043.1 Z" stroke="#000" stroke-width="0.9" fill="none" stroke-linejoin="miter"/>
<path d="M818.5 1040.3 L800 1040.3 L800 1042.7 L818.5 1042.7 Z" stroke="#000" stroke-width="0.9" fill="none" stroke-linejoin="miter"/>
<path d="M814 1047.7 L773.2 1126.3 L771.4 1128.1 L766.2 1128.1 L764.6 1119.9 L805 1045.3" stroke="#333" stroke-width="0.9" fill="#fff" stroke-linejoin="miter"/>
<circle cx="809.5" cy="1047.3" r="4.4" stroke="#333" stroke-width="0.9" fill="#fff"/>
<circle cx="809.5" cy="1047.9" r="2.2" stroke="#000" stroke-width="0.9" fill="none"/>
<path d="M813.6 1042.7 L813.6 1046.7" stroke="#333" stroke-width="0.8" fill="none" stroke-linejoin="miter"/>
<path d="M805.4 1042.7 L805.4 1045.7" stroke="#333" stroke-width="0.8" fill="none" stroke-linejoin="miter"/>
<circle cx="769.1" cy="1123.9" r="3.4" stroke="#333" stroke-width="0.8" fill="#fff"/>
<path d="M770.4 1122.6 L767.8 1122.6 L767.8 1125.2 L770.4 1125.2 Z" stroke="#333" stroke-width="0.7" fill="none" stroke-linejoin="miter"/>
<path d="M763.6 1115 L756.3 1115 L756.3 1133 L763.6 1133 Z" stroke="#000" stroke-width="1" fill="#fff" stroke-linejoin="miter"/>
<line x1="766" y1="1119.5" x2="763.6" y2="1119.5" stroke="#000" stroke-width="0.8"/>
<line x1="766" y1="1128.5" x2="763.6" y2="1128.5" stroke="#000" stroke-width="0.8"/>
<line x1="1108.5" y1="1397.5" x2="767.2" y2="1397.5" stroke="#000" stroke-width="1"/>
<line x1="1108.5" y1="1401.5" x2="767.2" y2="1401.5" stroke="#000" stroke-width="1"/>
<path d="M767.2 1396.3 L763.4 1396.3 L763.4 1386.1 L757.3 1386.1 L757.3 1402.1 L767.2 1402.1 Z" stroke="#000" stroke-width="1.2" fill="#fff" stroke-linejoin="miter"/>
<path d="M762.8 1386.3 L757.6 1386.3 L757.6 1396.3 L762.8 1390.1 Z" stroke="#000" stroke-width="0.8" fill="#000" stroke-linejoin="miter"/>
<line x1="765.5" y1="1396.5" x2="765.5" y2="1401.9" stroke="#000" stroke-width="0.8"/>
<line x1="1110.5" y1="1224.9" x2="1110.5" y2="1402.1" stroke="#000" stroke-width="1"/>
<line x1="1113.25" y1="1224.5" x2="1092" y2="1224.5" stroke="#000" stroke-width="1"/>
<line x1="1107.5" y1="1225.4" x2="1107.5" y2="1397.7" stroke="#000" stroke-width="1"/>
<line x1="1106.5" y1="1231.7" x2="1106.5" y2="1395.7" stroke="#000" stroke-width="1"/>
<line x1="1113.25" y1="1402.5" x2="1108.5" y2="1402.5" stroke="#000" stroke-width="1"/>
<line x1="1108.5" y1="1397.3" x2="1108.5" y2="1402.1" stroke="#000" stroke-width="1"/>
<path d="M1107.1 1230.9 L1103.2 1230.9 L1103.2 1253.2 L1107.1 1253.2 Z" stroke="#000" stroke-width="1" fill="none" stroke-linejoin="miter"/>
<path d="M1098.8 1245.7 L1098.6 1253.2 L1101.8 1253.2 L1102 1245.7" stroke="#000" stroke-width="1" fill="none" stroke-linejoin="miter"/>
<line x1="1102.5" y1="1230.7" x2="1102.5" y2="1253.2" stroke="#777" stroke-width="0.9"/>
<path d="M1107.1 1233.7 Q1107.4 1222.7 1103.6 1221.9 Q1100.8 1222.1 1100.6 1225.7" stroke="#000" stroke-width="1.2" fill="none"/>
<line x1="1106.4" y1="1231" x2="1102.6" y2="1231" stroke="#000" stroke-width="1.4"/>
<path d="M1103.4 1364.5 L1080.6 1364.5 L1080.6 1371.5 L1103.4 1371.5 Z" stroke="#222" stroke-width="1" fill="#fff" stroke-linejoin="miter"/>
<line x1="1100.65" y1="1224.9" x2="1093.2" y2="1396.7" stroke="#111" stroke-width="1"/>
<line x1="1099.1" y1="1224.9" x2="1091.2" y2="1396.7" stroke="#8a8a8a" stroke-width="0.9"/>
<line x1="1096.6" y1="1224.9" x2="1090.6" y2="1391.9" stroke="#2a2a2a" stroke-width="1"/>
<line x1="1092.3" y1="1224.9" x2="1086" y2="1391.9" stroke="#666" stroke-width="1"/>
<line x1="1090.6" y1="1391.5" x2="1086" y2="1391.5" stroke="#222" stroke-width="0.9"/>
<line x1="1096.5" y1="1219.3" x2="1096.5" y2="1227.9" stroke="#000" stroke-width="0.9"/>
<path d="M1104.8 1348.7 L1102.4 1391.7 Q1102.6 1395.7 1106 1395.1 L1107 1360.7" stroke="#222" stroke-width="0.9" fill="none"/>
<line x1="1104.6" y1="1361.7" x2="1103.4" y2="1392.7" stroke="#777" stroke-width="0.7"/>
<path d="M1113.1 1374.7 L1111.3 1374.7 L1111.3 1396.7 L1113.1 1396.7 Z" stroke="#222" stroke-width="0.8" fill="none" stroke-linejoin="miter"/>
<path d="M1112.8 1386.7 L1111.5 1386.7 L1111.5 1395.7 L1112.8 1395.7 Z" stroke="#000" stroke-width="0.6" fill="#000" stroke-linejoin="miter"/>
<circle cx="1091.8" cy="1398.3" r="1.6" stroke="#000" stroke-width="1" fill="none"/>
<line x1="1093.5" y1="1391.7" x2="1093.5" y2="1399.7" stroke="#000" stroke-width="0.9"/>
<line x1="754.5" y1="972.5" x2="1112.6" y2="972.5" stroke="#000" stroke-width="1"/>
<path d="M754.7 972.2 L761.3 970.85 L761.3 973.55 Z" fill="#000" stroke="none"/>
<path d="M1112.4 972.2 L1105.8 973.55 L1105.8 970.85 Z" fill="#000" stroke="none"/>
<line x1="754.5" y1="964.2" x2="754.5" y2="1040" stroke="#000" stroke-width="1"/>
<line x1="1112.5" y1="964.2" x2="1112.5" y2="1040" stroke="#000" stroke-width="1"/>
<line x1="1224.5" y1="1040.3" x2="1224.5" y2="1401" stroke="#000" stroke-width="1"/>
<path d="M1224.7 1040.5 L1226.05 1047.1 L1223.35 1047.1 Z" fill="#000" stroke="none"/>
<path d="M1224.7 1400.8 L1223.35 1394.2 L1226.05 1394.2 Z" fill="#000" stroke="none"/>
<line x1="1145.6" y1="1040.5" x2="1232.1" y2="1040.5" stroke="#000" stroke-width="1"/>
<line x1="1145.6" y1="1401.5" x2="1231.7" y2="1401.5" stroke="#000" stroke-width="1"/>
<line x1="1040.5" y1="1222.4" x2="1040.5" y2="1401" stroke="#000" stroke-width="1"/>
<path d="M1040.75 1222.6 L1042.1 1229.2 L1039.4 1229.2 Z" fill="#000" stroke="none"/>
<path d="M1040.75 1400.6 L1039.4 1394 L1042.1 1394 Z" fill="#000" stroke="none"/>
<line x1="1032.2" y1="1222.5" x2="1101" y2="1222.5" stroke="#000" stroke-width="0.9"/>
<line x1="1032.2" y1="1402" x2="1092.6" y2="1402" stroke="#000" stroke-width="1.7"/>
<line x1="766.5" y1="1469.5" x2="1092.6" y2="1469.5" stroke="#000" stroke-width="1"/>
<path d="M766.7 1469.4 L773.3 1468.05 L773.3 1470.75 Z" fill="#000" stroke="none"/>
<path d="M1092.4 1469.4 L1085.8 1470.75 L1085.8 1468.05 Z" fill="#000" stroke="none"/>
<line x1="766.5" y1="1402.4" x2="766.5" y2="1477.8" stroke="#000" stroke-width="1"/>
<line x1="1092.5" y1="1400" x2="1092.5" y2="1477.4" stroke="#000" stroke-width="1"/>
</g>
<g id="details">
<path d="M1331.2 954.2 L1523.1 954.2 L1523.1 1239.5 L1331.2 1239.5 Z" stroke="#3a3a3a" stroke-width="1.3" fill="none" stroke-linejoin="miter"/>
<line x1="1331.2" y1="987.5" x2="1480.5" y2="987.5" stroke="#000" stroke-width="1.1"/>
<path d="M1490.5 987.3 L1474 989.9 L1474 984.7 Z" fill="#000" stroke="none"/>
<line x1="1331.2" y1="1025.5" x2="1470.2" y2="1025.5" stroke="#000" stroke-width="1.1"/>
<path d="M1480.2 1025.3 L1463.7 1027.9 L1463.7 1022.7 Z" fill="#000" stroke="none"/>
<line x1="1331.2" y1="1066.5" x2="1454.7" y2="1066.5" stroke="#000" stroke-width="1.1"/>
<path d="M1464.7 1066.7 L1448.2 1069.3 L1448.2 1064.1 Z" fill="#000" stroke="none"/>
<line x1="1491.6" y1="984" x2="1491.6" y2="1129" stroke="#000" stroke-width="1" stroke-dasharray="4 3.4"/>
<line x1="1481.4" y1="1021.2" x2="1481.4" y2="1129" stroke="#111" stroke-width="1" stroke-dasharray="4 3.4"/>
<line x1="1466" y1="1065" x2="1466" y2="1161" stroke="#111" stroke-width="1" stroke-dasharray="4 3.4"/>
<line x1="1331.2" y1="1133.5" x2="1491.5" y2="1133.5" stroke="#000" stroke-width="1.1"/>
<line x1="1431.3" y1="1134" x2="1471.6" y2="1134" stroke="#000" stroke-width="2"/>
<line x1="1491.5" y1="1129.4" x2="1491.5" y2="1239.5" stroke="#000" stroke-width="1.1"/>
<line x1="1481.5" y1="1129.4" x2="1481.5" y2="1207.3" stroke="#222" stroke-width="1"/>
<line x1="1470.8" y1="1207.5" x2="1481.2" y2="1207.5" stroke="#000" stroke-width="1.1"/>
<line x1="1462.5" y1="1154" x2="1462.5" y2="1239.5" stroke="#000" stroke-width="1.1"/>
<line x1="1470.5" y1="1154" x2="1470.5" y2="1239.5" stroke="#000" stroke-width="1.1"/>
<line x1="1462" y1="1156" x2="1462" y2="1195.5" stroke="#000" stroke-width="1.8"/>
<path d="M1431.3 1133.7 L1460.8 1133.7 L1460.8 1141.8 L1431.3 1141.8 Z" stroke="#222" stroke-width="1.3" fill="none" stroke-linejoin="miter"/>
<line x1="1432" y1="1133.7" x2="1432" y2="1141.8" stroke="#000" stroke-width="1.8"/>
<line x1="1461" y1="1133.7" x2="1461" y2="1154.6" stroke="#000" stroke-width="2"/>
<line x1="1471" y1="1133.7" x2="1471" y2="1154.6" stroke="#000" stroke-width="1.5"/>
<path d="M1462.4 1135.6 L1470.2 1135.6 L1470.2 1138 L1462.4 1138 Z" stroke="#555" stroke-width="0.8" fill="#eee" stroke-linejoin="miter"/>
<line x1="1459" y1="1153.5" x2="1463.6" y2="1153.5" stroke="#000" stroke-width="1.2"/>
<path d="M1288.6 1272.6 L1569.6 1272.6 L1569.6 1457.6 L1288.6 1457.6 Z" stroke="#222" stroke-width="1.2" fill="none" stroke-linejoin="miter"/>
<line x1="1464.5" y1="1272.6" x2="1464.5" y2="1428.4" stroke="#222" stroke-width="1.1"/>
<line x1="1318.5" y1="1272.6" x2="1318.5" y2="1417" stroke="#222" stroke-width="1.1"/>
<path d="M1318.75 1427 L1315.95 1410.5 L1321.55 1410.5 Z" fill="#000" stroke="none"/>
<line x1="1358.5" y1="1272.6" x2="1358.5" y2="1405.6" stroke="#222" stroke-width="1.1"/>
<path d="M1358.8 1415.6 L1356 1399.1 L1361.6 1399.1 Z" fill="#000" stroke="none"/>
<line x1="1397.5" y1="1272.6" x2="1397.5" y2="1390.3" stroke="#222" stroke-width="1.1"/>
<path d="M1397.6 1400.3 L1394.8 1383.8 L1400.4 1383.8 Z" fill="#000" stroke="none"/>
<line x1="1315.3" y1="1428.4" x2="1464.4" y2="1428.4" stroke="#000" stroke-width="1" stroke-dasharray="4.5 3"/>
<line x1="1464.4" y1="1428.5" x2="1569.6" y2="1428.5" stroke="#000" stroke-width="1.1"/>
<line x1="1354.5" y1="1416.9" x2="1464.4" y2="1416.9" stroke="#333" stroke-width="1.1" stroke-dasharray="4.5 3"/>
<line x1="1395.1" y1="1401.6" x2="1492" y2="1401.6" stroke="#111" stroke-width="1" stroke-dasharray="4.5 3"/>
<path d="M1464.4 1368.4 L1472.8 1368.4 L1472.8 1396.5 L1464.4 1396.5 Z" stroke="#222" stroke-width="1" fill="none" stroke-linejoin="miter"/>
<line x1="1468" y1="1397.5" x2="1569.6" y2="1397.5" stroke="#444" stroke-width="1.1"/>
<line x1="1468" y1="1406.5" x2="1569.6" y2="1406.5" stroke="#000" stroke-width="1.2"/>
<path d="M1468 1407.4 L1538.7 1407.4 L1538.7 1416.9 L1464.4 1416.9" stroke="#444" stroke-width="1.2" fill="none" stroke-linejoin="miter"/>
<path d="M1464.6 1396.6 L1468 1396.6 L1468 1407.8 L1464.6 1407.8 Z" stroke="#666" stroke-width="0.8" fill="#bbb" stroke-linejoin="miter"/>
<line x1="1465.2" y1="1397" x2="1484.3" y2="1397" stroke="#000" stroke-width="1.8"/>
<line x1="1465.2" y1="1407" x2="1484.3" y2="1407" stroke="#000" stroke-width="1.8"/>
</g>
<g id="labels">
<path d="M317 26.15 L323.05 26.15 L323.05 69 L345 69 L345 74.7 L317 74.7 Z" fill="#000"/>
<path d="M954.9 71.8 L954.9 23.2 L971.23 23.2 C980.66 23.2 985.27 28.06 985.27 36.42 C985.27 43.85 981.39 49.2 975.02 50.9 L992.22 71.8 L984.21 71.8 L968.99 52.8 L961.12 52.8 L961.12 71.8 Z M961.12 46.92 L961.12 28.93 L970.6 28.93 C976.53 28.93 979.15 32.43 979.15 37.93 C979.15 43.37 976.28 46.92 970.6 46.92 Z" fill="#000" fill-rule="evenodd"/>
<path d="M4.1 399.6 L29.9 384.8 L29.9 388.5 L4.1 403.1 Z" fill="#000"/>
<path d="M4.1 417.3 L29.9 402.1 L29.9 405.9 L4.1 420.8 Z" fill="#000"/>
<path d="M14.6 395 L17.1 393.6 L17.1 412 L14.6 413.4 Z" fill="#000"/>
<path d="M1230.7 361.1 L1256.05 375.2 L1256.05 379 L1230.7 364.8 Z" fill="#000"/>
<path d="M1230.7 378.4 L1256.05 392.6 L1256.05 396.4 L1230.7 382.2 Z" fill="#000"/>
<path d="M1240.85 368.5 L1243.4 369.9 L1243.4 387.4 L1240.85 386 Z" fill="#000"/>
<path d="M137.8 750.3 L141 752.1 L141 781.2 L137.8 779.4 Z" fill="#000"/>
<path d="M137.8 750.3 L152.9 758.8 L152.9 762 L137.8 753.5 Z" fill="#000"/>
<path d="M139.5 763.4 L152.2 770.5 L152.2 773.7 L139.5 766.6 Z" fill="#000"/>
<path d="M261 820.3 L264.1 822 L264.1 851.2 L261 849.4 Z" fill="#000"/>
<path d="M261 820.3 L276.8 829.1 L276.8 832.3 L261 823.5 Z" fill="#000"/>
<path d="M262.5 832.5 L276.05 840 L276.05 843.1 L262.5 835.6 Z" fill="#000"/>
<path d="M261 846.2 L276.8 855 L276.8 858.3 L261 849.5 Z" fill="#000"/>
<path d="M1016.9 830.5 L1020 828.8 L1020 858.3 L1016.9 860 Z" fill="#000"/>
<path d="M1016.9 830.5 L1032.9 822 L1032.9 825.1 L1016.9 833.7 Z" fill="#000"/>
<path d="M1018.5 841.6 L1032.1 834.3 L1032.1 837.5 L1018.5 844.8 Z" fill="#000"/>
<path d="M1016.9 856.8 L1032.9 848.3 L1032.9 851.4 L1016.9 860 Z" fill="#000"/>
<path d="M1139.8 761.7 L1142.9 760 L1142.9 789.6 L1139.8 791.3 Z" fill="#000"/>
<path d="M1139.8 761.7 L1154.8 753.3 L1154.8 756.5 L1139.8 764.9 Z" fill="#000"/>
<path d="M1141.4 773.2 L1154.3 766 L1154.3 769.1 L1141.4 776.3 Z" fill="#000"/>
<text transform="matrix(0.3234 -0.1859 0 0.4498 445.38 825.2)" font-family="'Liberation Sans', sans-serif" font-size="100" fill="#000">G</text>
<text transform="matrix(0.3218 0.1851 0 0.4434 829.59 816.77)" font-family="'Liberation Sans', sans-serif" font-size="100" fill="#000">G</text>
<path d="M257.9 955.7 L267.63 926.9 L272.53 926.9 L282.03 955.7 L278.41 955.7 L275.81 947.69 L264.12 947.69 L261.53 955.7 Z" fill="#000"/>
<path d="M270.05 930.21 L265.1 944.93 L274.92 944.93 Z" fill="#fff"/>
<path d="M291.96 955.7 L291.96 929.78 L293.26 926.9 L295.07 926.9 L295.07 955.7 Z" fill="#000"/>
<path d="M286.2 955.7 L300.6 955.7 L300.6 952.91 L286.2 952.91 Z" fill="#000"/>
<path d="M286.2 933.87 L291.96 933.87 L291.96 929.78 L289.94 930.99 L286.2 930.99 Z" fill="#000"/>
<path d="M309.67 950.03 L313.88 950.03 L308.78 962.67 L305.9 962.67 Z" fill="#000"/>
<path d="M316.93 926.9 L321.17 926.9 L339.31 955.7 L334.67 955.7 Z" fill="#000"/>
<path d="M335.34 926.9 L339.31 926.9 L320.7 955.7 L316.5 955.7 Z" fill="#000"/>
<path d="M348.86 955.7 L348.86 929.78 L350.16 926.9 L351.97 926.9 L351.97 955.7 Z" fill="#000"/>
<path d="M343.1 955.7 L357.5 955.7 L357.5 952.91 L343.1 952.91 Z" fill="#000"/>
<path d="M343.1 933.87 L348.86 933.87 L348.86 929.78 L346.84 930.99 L343.1 930.99 Z" fill="#000"/>
<path d="M366.57 950.03 L370.78 950.03 L365.68 962.67 L362.8 962.67 Z" fill="#000"/>
<path d="M373 926.9 L377.32 926.9 L384.69 940.15 L392.01 926.9 L396.33 926.9 L386.25 944.04 L386.25 955.7 L383.14 955.7 L383.14 944.04 Z" fill="#000"/>
<path d="M406.06 955.7 L406.06 929.78 L407.36 926.9 L409.17 926.9 L409.17 955.7 Z" fill="#000"/>
<path d="M400.3 955.7 L414.7 955.7 L414.7 952.91 L400.3 952.91 Z" fill="#000"/>
<path d="M400.3 933.87 L406.06 933.87 L406.06 929.78 L404.04 930.99 L400.3 930.99 Z" fill="#000"/>
<path d="M854.1 955.7 L863.83 926.9 L868.73 926.9 L878.23 955.7 L874.61 955.7 L872.01 947.69 L860.32 947.69 L857.73 955.7 Z" fill="#000"/>
<path d="M866.25 930.21 L861.3 944.93 L871.12 944.93 Z" fill="#fff"/>
<path d="M888.16 955.7 L888.16 929.78 L889.46 926.9 L891.27 926.9 L891.27 955.7 Z" fill="#000"/>
<path d="M882.4 955.7 L896.8 955.7 L896.8 952.91 L882.4 952.91 Z" fill="#000"/>
<path d="M882.4 933.87 L888.16 933.87 L888.16 929.78 L886.14 930.99 L882.4 930.99 Z" fill="#000"/>
<path d="M905.87 950.03 L910.08 950.03 L904.98 962.67 L902.1 962.67 Z" fill="#000"/>
<path d="M913.13 926.9 L917.37 926.9 L935.51 955.7 L930.87 955.7 Z" fill="#000"/>
<path d="M931.54 926.9 L935.51 926.9 L916.9 955.7 L912.7 955.7 Z" fill="#000"/>
<path d="M945.06 955.7 L945.06 929.78 L946.36 926.9 L948.17 926.9 L948.17 955.7 Z" fill="#000"/>
<path d="M939.3 955.7 L953.7 955.7 L953.7 952.91 L939.3 952.91 Z" fill="#000"/>
<path d="M939.3 933.87 L945.06 933.87 L945.06 929.78 L943.04 930.99 L939.3 930.99 Z" fill="#000"/>
<path d="M962.77 950.03 L966.98 950.03 L961.88 962.67 L959 962.67 Z" fill="#000"/>
<path d="M969.2 926.9 L973.52 926.9 L980.89 940.15 L988.21 926.9 L992.53 926.9 L982.45 944.04 L982.45 955.7 L979.34 955.7 L979.34 944.04 Z" fill="#000"/>
<path d="M1002.26 955.7 L1002.26 929.78 L1003.56 926.9 L1005.37 926.9 L1005.37 955.7 Z" fill="#000"/>
<path d="M996.5 955.7 L1010.9 955.7 L1010.9 952.91 L996.5 952.91 Z" fill="#000"/>
<path d="M996.5 933.87 L1002.26 933.87 L1002.26 929.78 L1000.24 930.99 L996.5 930.99 Z" fill="#000"/>
<path d="M59.85 1300.3 L30.55 1290.94 L30.55 1286.23 L59.85 1277.1 L59.85 1280.59 L51.7 1283.08 L51.7 1294.32 L59.85 1296.81 Z" fill="#000"/>
<path d="M33.92 1288.62 L48.89 1293.38 L48.89 1283.94 Z" fill="#fff"/>
<text transform="matrix(0 -0.3846 0.4251 0 59.85 1276.12)" font-family="'Liberation Sans', sans-serif" font-size="100" fill="#000">2</text>
<path d="M54.08 1250.57 L54.08 1246.53 L66.94 1251.43 L66.94 1254.2 Z" fill="#000"/>
<path d="M30.55 1241.08 L30.55 1237.01 L59.85 1219.57 L59.85 1224.03 Z" fill="#000"/>
<path d="M30.55 1223.39 L30.55 1219.57 L59.85 1237.46 L59.85 1241.5 Z" fill="#000"/>
<text transform="matrix(0 -0.3846 0.4251 0 59.85 1219.22)" font-family="'Liberation Sans', sans-serif" font-size="100" fill="#000">2</text>
<path d="M54.08 1192.47 L54.08 1188.43 L66.94 1193.33 L66.94 1196.1 Z" fill="#000"/>
<path d="M30.55 1185.8 L30.55 1181.65 L44.03 1174.56 L30.55 1167.53 L30.55 1163.37 L47.98 1173.06 L59.85 1173.06 L59.85 1176.05 L47.98 1176.05 Z" fill="#000"/>
<text transform="matrix(0 -0.3846 0.4251 0 59.85 1162.22)" font-family="'Liberation Sans', sans-serif" font-size="100" fill="#000">2</text>
<path d="M1207.7 1300.3 L1178.4 1290.94 L1178.4 1286.23 L1207.7 1277.1 L1207.7 1280.59 L1199.55 1283.08 L1199.55 1294.32 L1207.7 1296.81 Z" fill="#000"/>
<path d="M1181.77 1288.62 L1196.74 1293.38 L1196.74 1283.94 Z" fill="#fff"/>
<text transform="matrix(0 -0.3846 0.4251 0 1207.7 1276.12)" font-family="'Liberation Sans', sans-serif" font-size="100" fill="#000">2</text>
<path d="M1201.93 1250.57 L1201.93 1246.53 L1214.79 1251.43 L1214.79 1254.2 Z" fill="#000"/>
<path d="M1178.4 1241.08 L1178.4 1237.01 L1207.7 1219.57 L1207.7 1224.03 Z" fill="#000"/>
<path d="M1178.4 1223.39 L1178.4 1219.57 L1207.7 1237.46 L1207.7 1241.5 Z" fill="#000"/>
<text transform="matrix(0 -0.3846 0.4251 0 1207.7 1219.22)" font-family="'Liberation Sans', sans-serif" font-size="100" fill="#000">2</text>
<path d="M1201.93 1192.47 L1201.93 1188.43 L1214.79 1193.33 L1214.79 1196.1 Z" fill="#000"/>
<path d="M1178.4 1185.8 L1178.4 1181.65 L1191.88 1174.56 L1178.4 1167.53 L1178.4 1163.37 L1195.83 1173.06 L1207.7 1173.06 L1207.7 1176.05 L1195.83 1176.05 Z" fill="#000"/>
<text transform="matrix(0 -0.3846 0.4251 0 1207.7 1162.22)" font-family="'Liberation Sans', sans-serif" font-size="100" fill="#000">2</text>
<text transform="matrix(0 -0.3662 0.4183 0 254.06 1324.82)" font-family="'Liberation Sans', sans-serif" font-size="100" fill="#000">B</text>
<text transform="matrix(0 -0.3662 0.4182 0 1033.2 1324.82)" font-family="'Liberation Sans', sans-serif" font-size="100" fill="#000">B</text>
<text transform="matrix(0.3882 0 0 0.4196 327.7 1462.85)" font-family="'Liberation Sans', sans-serif" font-size="100" fill="#000">D</text>
<text transform="matrix(0.3882 0 0 0.4196 915.3 1462.85)" font-family="'Liberation Sans', sans-serif" font-size="100" fill="#000">D</text>
<text transform="matrix(0.1996 0 0 0.2276 1384.35 981)" font-family="'Liberation Sans', sans-serif" font-size="100" fill="#000">A1</text>
<text transform="matrix(0.2048 0 0 0.2298 1383.74 1020.3)" font-family="'Liberation Sans', sans-serif" font-size="100" fill="#000">X1</text>
<text transform="matrix(0.203 0 0 0.2313 1383.94 1062.5)" font-family="'Liberation Sans', sans-serif" font-size="100" fill="#000">Y1</text>
<text transform="matrix(0 -0.2282 0.2394 0 1313.1 1369.96)" font-family="'Liberation Sans', sans-serif" font-size="100" fill="#000">A2</text>
<text transform="matrix(0 -0.2261 0.2437 0 1354.2 1360.21)" font-family="'Liberation Sans', sans-serif" font-size="100" fill="#000">X2</text>
<text transform="matrix(0 -0.2296 0.2409 0 1394.2 1353.42)" font-family="'Liberation Sans', sans-serif" font-size="100" fill="#000">Y2</text>
</g>
</svg>
</body>
</html>
